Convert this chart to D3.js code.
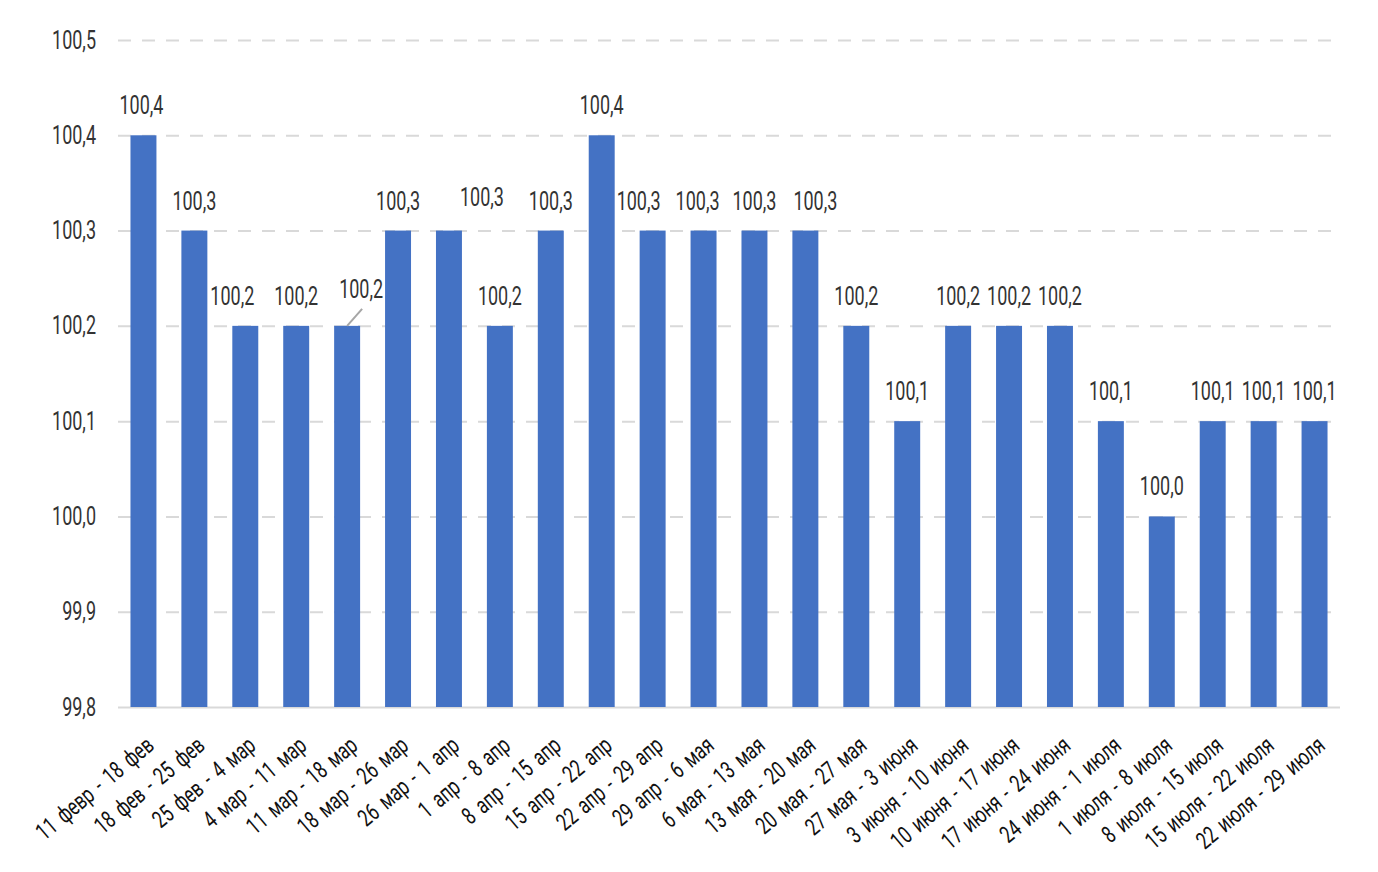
<!DOCTYPE html>
<html>
<head>
<meta charset="utf-8">
<script src="https://cdn.jsdelivr.net/npm/d3@7"></script>
<style>
  body { margin: 0; background: #fff; }
  svg text { font-family: Roboto, "Liberation Sans", sans-serif; }
</style>
</head>
<body>
<svg id="chart" width="1378" height="872"></svg>
<script>
// weeks
const weeks = [
  "11 февр - 18 фев", "18 фев - 25 фев", "25 фев - 4 мар", "4 мар - 11 мар",
  "11 мар - 18 мар", "18 мар - 26 мар", "26 мар - 1 апр", "1 апр - 8 апр",
  "8 апр - 15 апр", "15 апр - 22 апр", "22 апр - 29 апр", "29 апр - 6 мая",
  "6 мая - 13 мая", "13 мая - 20 мая", "20 мая - 27 мая", "27 мая - 3 июня",
  "3 июня - 10 июня", "10 июня - 17 июня", "17 июня - 24 июня", "24 июня - 1 июля",
  "1 июля - 8 июля", "8 июля - 15 июля", "15 июля - 22 июля", "22 июля - 29 июля"
];
const values = [
  100.4, 100.3, 100.2, 100.2, 100.2, 100.3, 100.3, 100.2,
  100.3, 100.4, 100.3, 100.3, 100.3, 100.3, 100.2, 100.1,
  100.2, 100.2, 100.2, 100.1, 100.0, 100.1, 100.1, 100.1
];
const yTicks = [99.8, 99.9, 100.0, 100.1, 100.2, 100.3, 100.4, 100.5];

const data = weeks.map((w, i) => ({ week: w, value: values[i] }));

// some labels were dragged by hand in the original: [dx, dy, leader line]
const labelNudge = {
  0: [-2, 0], 2: [-13, 0], 4: [14, -7, true], 6: [33, -4],
  10: [-14, 0], 11: [-6, 0], 13: [10, 0]
};

const svg = d3.select('#chart');
const plotL = 118, plotR = 1340, plotT = 40, plotB = 707;
const squeeze = 0.72; // the original font is a condensed one

const x = d3.scaleBand().domain(weeks).range([plotL, plotR])
  .paddingInner(0.49).paddingOuter(0.245);
const y = d3.scaleLinear().domain([99.8, 100.5]).range([plotB, plotT]);

const fmt = v => d3.format('.1f')(v).replace('.', ',');

// grid + y labels
const yAxis = svg.append('g')
  .attr('transform', `translate(${plotL},0)`)
  .call(d3.axisLeft(y).tickValues(yTicks).tickSize(-(plotR - plotL)).tickFormat(fmt));
yAxis.select('.domain').remove();
yAxis.selectAll('.tick line')
  .attr('stroke', '#d9d9d9')
  .attr('stroke-width', 2)
  .attr('stroke-dasharray', d => d === 99.8 ? null : '13,11');
yAxis.selectAll('.tick text')
  .attr('x', 0)
  .attr('transform', `translate(-22,0) scale(${squeeze},1)`)
  .attr('fill', '#333')
  .style('font-size', '25px');

// bars
svg.append('g').selectAll('rect')
  .data(data)
  .enter()
  .append('rect')
    .attr('x', d => x(d.week))
    .attr('y', d => y(d.value))
    .attr('width', x.bandwidth())
    .attr('height', d => y(99.8) - y(d.value))
    .attr('fill', '#4472c4');

// data labels
const labels = svg.append('g');
data.forEach((d, i) => {
  const cx = x(d.week) + x.bandwidth() / 2;
  const barTop = y(d.value);
  const n = labelNudge[i] || [0, 0];
  labels.append('text')
    .attr('transform', `translate(${cx + n[0]},${barTop - 21 + n[1]}) scale(${squeeze},1)`)
    .attr('text-anchor', 'middle')
    .attr('fill', '#333')
    .style('font-size', '25px')
    .text(fmt(d.value));
  if (n[2]) {
    labels.append('line')
      .attr('x1', cx).attr('y1', barTop)
      .attr('x2', cx + n[0] + 1).attr('y2', barTop - 17)
      .attr('stroke', '#a6a6a6')
      .attr('stroke-width', 2);
  }
});

// x axis labels
const xAxis = svg.append('g')
  .attr('transform', `translate(0,${plotB})`)
  .call(d3.axisBottom(x).tickSize(0).tickPadding(0));
xAxis.select('.domain').remove();
xAxis.selectAll('.tick text')
  .attr('y', 0)
  .attr('dy', 0)
  .attr('text-anchor', 'end')
  .attr('transform', `translate(12,41) rotate(-40) scale(${squeeze},1)`)
  .attr('fill', '#111')
  .style('font-size', '24px')
  .style('word-spacing', '4px');
</script>
</body>
</html>
